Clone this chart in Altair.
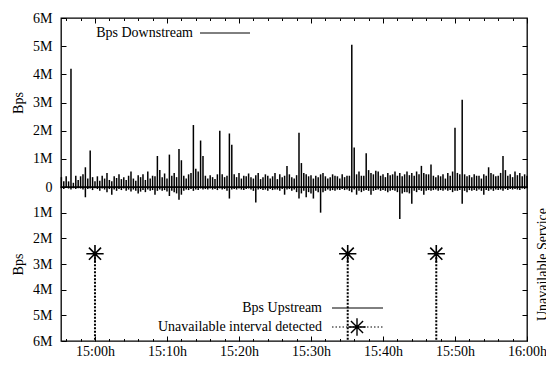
import altair as alt
import pandas as pd

# ---------------- data ----------------
# samples every 20 s, starting 14:55:20 (minute -14/3 relative to 15:00) up to 16:00
N_SAMPLES = 195
DOWN_M = [
    0.35, 0.20, 0.38,   0.20, 4.20, 0.15,   0.40, 0.25, 0.38,   0.45, 0.70, 0.30,
    1.30, 0.35, 0.20,   0.38, 0.22, 0.40,   0.30, 0.50, 0.25,   0.20, 0.38, 0.32,
    0.45, 0.28, 0.35,   0.25, 0.40, 0.55,   0.30, 0.22, 0.42,   0.35, 0.45, 0.25,
    0.55, 0.30, 0.40,   0.38, 1.10, 0.60,   0.35, 0.48, 0.30,   1.15, 0.40, 0.50,
    0.35, 1.35, 0.95,   0.40, 0.30, 0.45,   0.50, 2.20, 0.65,   0.55, 1.65, 1.10,
    0.40, 0.30, 0.42,   0.35, 0.28, 0.45,   2.00, 0.45, 0.35,   0.40, 1.90, 1.50,
    0.45, 0.35, 0.50,   0.30, 0.40, 0.38,   0.48, 0.35, 0.30,   0.42, 0.50, 0.28,
    0.35, 0.45, 0.40,   0.30, 0.38, 0.50,   0.28, 0.45, 0.35,   0.40, 0.75, 0.45,
    0.35, 0.30, 0.42,   1.93, 0.85, 0.50,   0.45, 0.38, 0.42,   0.30, 0.40, 0.35,
    0.45, 0.50, 0.38,   0.30, 0.35, 0.45,   0.40, 0.38, 0.30,   0.45, 0.35, 0.40,
    0.40, 5.05, 1.40,   0.45, 0.55, 0.40,   0.40, 1.20, 0.60,   0.50, 0.45, 0.58,
    0.55, 0.40, 0.45,   0.35, 0.50, 0.42,   0.45, 0.55, 0.40,   0.50, 0.38, 0.45,
    0.55, 0.42, 0.50,   0.40, 0.55, 0.45,   0.75, 0.50, 0.45,   0.45, 0.80, 0.40,
    0.35, 0.42, 0.38,   0.45, 0.30, 0.50,   0.40, 0.55, 2.10,   0.50, 0.45, 3.10,
    0.45, 0.38, 0.42,   0.35, 0.45, 0.40,   0.40, 0.30, 0.45,   0.40, 0.70, 0.50,
    0.45, 0.38, 0.40,   0.50, 1.10, 0.60,   0.40, 0.45, 0.35,   0.55, 0.42, 0.50,
    0.38, 0.45, 0.40,
]
UP_M = [
    0.05, 0.08, 0.04,   0.06, 0.10, 0.05,   0.08, 0.05, 0.06,   0.10, 0.40, 0.08,
    0.06, 0.12, 0.05,   0.08, 0.15, 0.06,   0.10, 0.20, 0.08,   0.30, 0.10, 0.15,
    0.08, 0.12, 0.06,   0.15, 0.10, 0.18,   0.10, 0.15, 0.25,   0.18, 0.12, 0.20,
    0.10, 0.15, 0.12,   0.30, 0.15, 0.10,   0.15, 0.12, 0.18,   0.35, 0.15, 0.20,
    0.25, 0.50, 0.30,   0.15, 0.10, 0.12,   0.08, 0.15, 0.10,   0.12, 0.06, 0.10,
    0.08, 0.10, 0.06,   0.10, 0.08, 0.12,   0.06, 0.10, 0.08,   0.15, 0.45, 0.10,
    0.08, 0.10, 0.06,   0.10, 0.12, 0.08,   0.06, 0.10, 0.15,   0.60, 0.10, 0.08,
    0.12, 0.10, 0.15,   0.08, 0.12, 0.10,   0.10, 0.15, 0.08,   0.30, 0.10, 0.08,
    0.15, 0.10, 0.20,   0.45, 0.25, 0.15,   0.40, 0.20, 0.25,   0.45, 0.15, 0.20,
    1.00, 0.20, 0.15,   0.10, 0.15, 0.12,   0.15, 0.10, 0.12,   0.08, 0.12, 0.10,
    0.15, 0.20, 0.10,   0.30, 0.15, 0.20,   0.15, 0.12, 0.15,   0.30, 0.15, 0.12,
    0.10, 0.15, 0.12,   0.15, 0.20, 0.15,   0.12, 0.15, 0.20,   1.25, 0.25, 0.20,
    0.20, 0.25, 0.65,   0.15, 0.20, 0.12,   0.15, 0.30, 0.15,   0.12, 0.15, 0.12,
    0.10, 0.15, 0.12,   0.15, 0.10, 0.15,   0.12, 0.20, 0.15,   0.15, 0.12, 0.65,
    0.15, 0.20, 0.12,   0.15, 0.12, 0.15,   0.10, 0.15, 0.30,   0.12, 0.15, 0.10,
    0.15, 0.10, 0.12,   0.10, 0.15, 0.08,   0.12, 0.08, 0.10,   0.08, 0.10, 0.12,
    0.06, 0.08, 0.05,
]
EVENT_MIN = [0.0, 35.1, 47.4]        # minutes after 15:00
EVENT_LEVEL_M = [2.6, 2.6, 2.6]

X_DOMAIN = [-4.72, 60]
MAJOR_MIN = [0, 10, 20, 30, 40, 50, 60]
TICK_LABELS = ["15:00h", "15:10h", "15:20h", "15:30h", "15:40h", "15:50h", "16:00h"]
MINOR_MIN = list(range(-4, 61, 2))
Y_VALUES_M = [0, 1, 2, 3, 4, 5, 6]
Y_LABELS = ["0", "1M", "2M", "3M", "4M", "5M", "6M"]

LEG_TOP = ["Bps Downstream"]
LEG_BOT = ["Bps Upstream", "Unavailable interval detected"]

FONT = "Liberation Serif"
FS = 14

# ---------------- tables ----------------
T = [(-14 + i) / 3 for i in range(N_SAMPLES)]
df = pd.DataFrame({"t": T,
                   "down": [v * 1e6 for v in DOWN_M],
                   "up": [v * 1e6 for v in UP_M]})
ev = pd.DataFrame({"t": EVENT_MIN,
                   "lvl": [v * 1e6 for v in EVENT_LEVEL_M],
                   "bottom": [6e6] * len(EVENT_MIN)})
yv = pd.DataFrame({"v": [v * 1e6 for v in Y_VALUES_M]})

x_expr = " : ".join(f"datum.value == {m} ? '{l}'" for m, l in zip(MAJOR_MIN, TICK_LABELS)) + " : ''"
y_expr = "[" + ",".join(f"'{l}'" for l in Y_LABELS) + "][round(datum.value / 1000000)]"
minor_dash = {"condition": {"test": "datum.value % 10 != 0", "value": [0, 2.5, 2.5, 20]},
              "value": [20, 0]}

xscale = alt.Scale(domain=X_DOMAIN, nice=False, zero=False)

x_top = alt.X("t:Q", scale=xscale,
              axis=alt.Axis(orient="top", values=MINOR_MIN, labels=False, title=None,
                            offset=-5, tickSize=5, tickDash=minor_dash))
x_bot = alt.X("t:Q", scale=xscale,
              axis=alt.Axis(orient="bottom", values=MINOR_MIN, labelExpr=x_expr, title=None,
                            offset=-5, tickSize=5, tickDash=minor_dash, labelPadding=3,
                            labelFlush=False, labelOverlap=False))

yscale_top = alt.Scale(domain=[0, 6e6], nice=False, zero=True)
yscale_bot = alt.Scale(domain=[0, 6e6], nice=False, zero=True, reverse=True)

def left_axis(vals):
    return alt.Axis(orient="left", values=vals, labelExpr=y_expr, title="Bps",
                    offset=-5, tickSize=5, labelPadding=9, titlePadding=7)

W, HT, HB = 466, 169, 154
RULE_W = 1.5

# ---------------- upper panel ----------------
down_rules = alt.Chart(df).mark_rule(color="black", strokeWidth=RULE_W).encode(
    x=x_top,
    y=alt.Y("down:Q", scale=yscale_top,
            axis=left_axis([v * 1e6 for v in Y_VALUES_M])),
    y2=alt.datum(0),
)
top_right = alt.Chart(yv).mark_point(opacity=0).encode(
    y=alt.Y("v:Q", scale=yscale_top,
            axis=alt.Axis(orient="right", values=[v * 1e6 for v in Y_VALUES_M[1:-1]],
                          labels=False, title=None, offset=-5, tickSize=5)),
)
leg_top_df = pd.DataFrame({"label": LEG_TOP})
leg_top_text = alt.Chart(leg_top_df).mark_text(
    align="right", baseline="middle", font=FONT, fontSize=FS, color="black").encode(
    text="label:N", x=alt.value(132), y=alt.value(15))
leg_top_line = alt.Chart(leg_top_df).mark_rule(color="black", strokeWidth=1).encode(
    x=alt.value(139), x2=alt.value(189), y=alt.value(15))

top = alt.layer(down_rules, leg_top_text, leg_top_line, top_right).resolve_axis(
    y="independent").properties(width=W, height=HT)

# ---------------- lower panel ----------------
up_rules = alt.Chart(df).mark_rule(color="black", strokeWidth=RULE_W).encode(
    x=x_bot,
    y=alt.Y("up:Q", scale=yscale_bot,
            axis=left_axis([v * 1e6 for v in Y_VALUES_M[1:]])),
    y2=alt.datum(0),
)
ev_rules = alt.Chart(ev).mark_rule(color="black", strokeWidth=2, strokeDash=[2, 1.5]).encode(
    x=x_bot,
    y=alt.Y("lvl:Q", scale=yscale_bot, axis=None),
    y2="bottom:Q",
)
STAR = "M-1,0L1,0M0,-1L0,1M-0.7,-0.7L0.7,0.7M-0.7,0.7L0.7,-0.7"
ev_pts = alt.Chart(ev).mark_point(shape=STAR, size=300, filled=False, color="black",
                                  strokeWidth=1.6, opacity=1).encode(
    x=x_bot,
    y=alt.Y("lvl:Q", scale=yscale_bot, axis=None),
)
bot_right = alt.Chart(yv).mark_point(opacity=0).encode(
    y=alt.Y("v:Q", scale=yscale_bot,
            axis=alt.Axis(orient="right", values=[v * 1e6 for v in Y_VALUES_M[1:-1]],
                          labels=False, title="Unavailable Service", titleAngle=270,
                          titleBaseline="top", titlePadding=8, offset=-5, tickSize=5)),
)
leg_up_df = pd.DataFrame({"label": LEG_BOT[:1]})
leg_na_df = pd.DataFrame({"label": LEG_BOT[1:]})
leg_up_text = alt.Chart(leg_up_df).mark_text(
    align="right", baseline="middle", font=FONT, fontSize=FS, color="black").encode(
    text="label:N", x=alt.value(261), y=alt.value(121))
leg_na_text = alt.Chart(leg_na_df).mark_text(
    align="right", baseline="middle", font=FONT, fontSize=FS, color="black").encode(
    text="label:N", x=alt.value(261), y=alt.value(140))
leg_up_line = alt.Chart(leg_up_df).mark_rule(color="black", strokeWidth=1).encode(
    x=alt.value(271), x2=alt.value(322), y=alt.value(121))
leg_na_dots = alt.Chart(leg_na_df).mark_rule(
    color="black", strokeWidth=1, strokeDash=[1.5, 2]).encode(
    x=alt.value(271), x2=alt.value(322), y=alt.value(140))
leg_na_star = alt.Chart(leg_na_df).mark_point(
    shape=STAR, size=300, filled=False, color="black", strokeWidth=1.4, opacity=1).encode(
    x=alt.value(296), y=alt.value(140))

bottom = alt.layer(up_rules, ev_rules, ev_pts, leg_up_text, leg_na_text, leg_up_line,
                   leg_na_dots, leg_na_star, bot_right).resolve_axis(
    y="independent").properties(width=W, height=HB)

chart = alt.vconcat(top, bottom, spacing=0, bounds="flush").properties(
    padding={"left": 2, "top": 2, "right": -5, "bottom": 0},
    background="white",
).configure_view(stroke="black", strokeWidth=1.3).configure_axis(
    labelFont=FONT, labelFontSize=FS, labelColor="black",
    titleFont=FONT, titleFontSize=FS, titleFontWeight="normal", titleColor="black",
    tickColor="black", tickWidth=1, domain=False, grid=False,
)

chart.save("out.html", embed_options={"renderer": "svg", "actions": False})
